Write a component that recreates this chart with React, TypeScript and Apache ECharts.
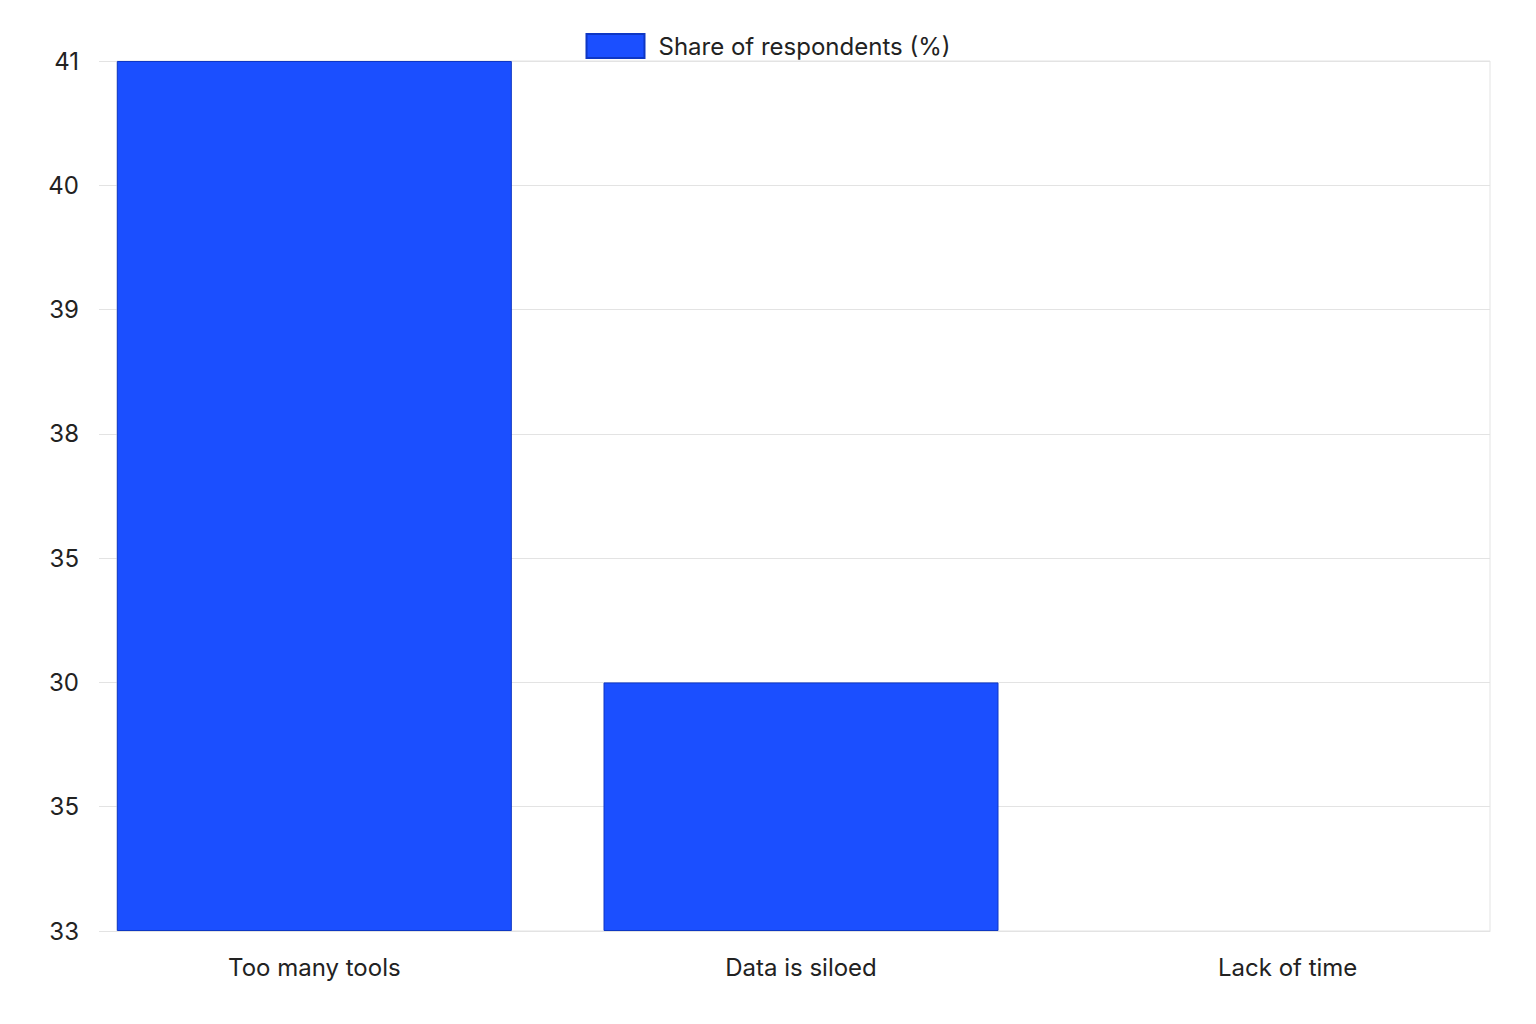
import { useEffect, useRef } from "react";
import * as echarts from "echarts";

// 分類與數值
const categories = ["Too many tools", "Data is siloed", "Lack of time"];
const shareValues = [41, 30, 33];
// y 軸刻度文字（由下而上，照原圖順序）
const yTickLabels = ["33", "35", "30", "35", "38", "39", "40", "41"];
const seriesName = "Share of respondents (%)";

const BAR_COLOR = "#1b4fff";
const BAR_BORDER = "#0e37c4";
const GRID_LINE = "#e3e3e3";
const TEXT_COLOR = "#222";
const FONT = "Inter, 'Noto Sans', sans-serif";

// 數值對應到刻度位置
function tickIndex(v: number): number {
  return yTickLabels.lastIndexOf(String(v));
}

function buildOption(): echarts.EChartsOption {
  const yMax = yTickLabels.length - 1;
  return {
    animation: false,
    textStyle: { fontFamily: FONT },
    legend: {
      top: 28,
      left: "center",
      icon: "rect",
      itemWidth: 58,
      itemHeight: 24,
      textStyle: {
        fontSize: 24,
        color: TEXT_COLOR,
        fontFamily: FONT,
        padding: [0, 0, 0, 9],
      },
      data: [seriesName],
    },
    // grid 0：框線、格線、y 軸；grid 1：長條與分類文字（原圖長條不在格子正中）
    grid: [
      {
        left: 117,
        right: 46,
        top: 61,
        bottom: 93,
        show: true,
        borderColor: GRID_LINE,
        borderWidth: 1,
      },
      { left: 71, right: 5, top: 61, bottom: 93 },
    ],
    xAxis: [
      {
        type: "category",
        gridIndex: 0,
        data: categories,
        axisTick: { show: false },
        axisLabel: { show: false },
        axisLine: { lineStyle: { color: GRID_LINE } },
      },
      {
        type: "category",
        gridIndex: 1,
        data: categories,
        axisTick: { show: false },
        axisLine: { show: false },
        axisLabel: { fontSize: 24, color: TEXT_COLOR, margin: 24, fontFamily: FONT },
      },
    ],
    yAxis: [
      {
        type: "value",
        gridIndex: 0,
        min: 0,
        max: yMax,
        interval: 1,
        axisLine: { show: false },
        axisTick: { show: true, length: 18, lineStyle: { color: GRID_LINE } },
        splitLine: { lineStyle: { color: GRID_LINE } },
        axisLabel: {
          fontSize: 24,
          color: TEXT_COLOR,
          margin: 38,
          fontFamily: FONT,
          formatter: (v: number) => yTickLabels[Math.round(v)] ?? "",
        },
      },
      {
        type: "value",
        gridIndex: 1,
        min: 0,
        max: yMax,
        interval: 1,
        show: false,
        splitLine: { show: false },
      },
    ],
    series: [
      {
        name: seriesName,
        type: "bar",
        xAxisIndex: 1,
        yAxisIndex: 1,
        barWidth: 395,
        itemStyle: { color: BAR_COLOR, borderColor: BAR_BORDER, borderWidth: 1 },
        data: shareValues.map((v) => {
          const idx = tickIndex(v);
          return idx > 0
            ? { value: idx }
            : { value: idx, itemStyle: { borderWidth: 0 } };
        }),
      },
    ],
  };
}

export default function App() {
  const ref = useRef<HTMLDivElement | null>(null);

  useEffect(() => {
    document.body.style.margin = "0";
    const el = ref.current;
    if (!el) return;
    const chart = echarts.init(el, undefined, { renderer: "svg" });
    chart.setOption(buildOption());
    return () => {
      chart.dispose();
    };
  }, []);

  return <div ref={ref} style={{ width: 1536, height: 1024, background: "#fff" }} />;
}
